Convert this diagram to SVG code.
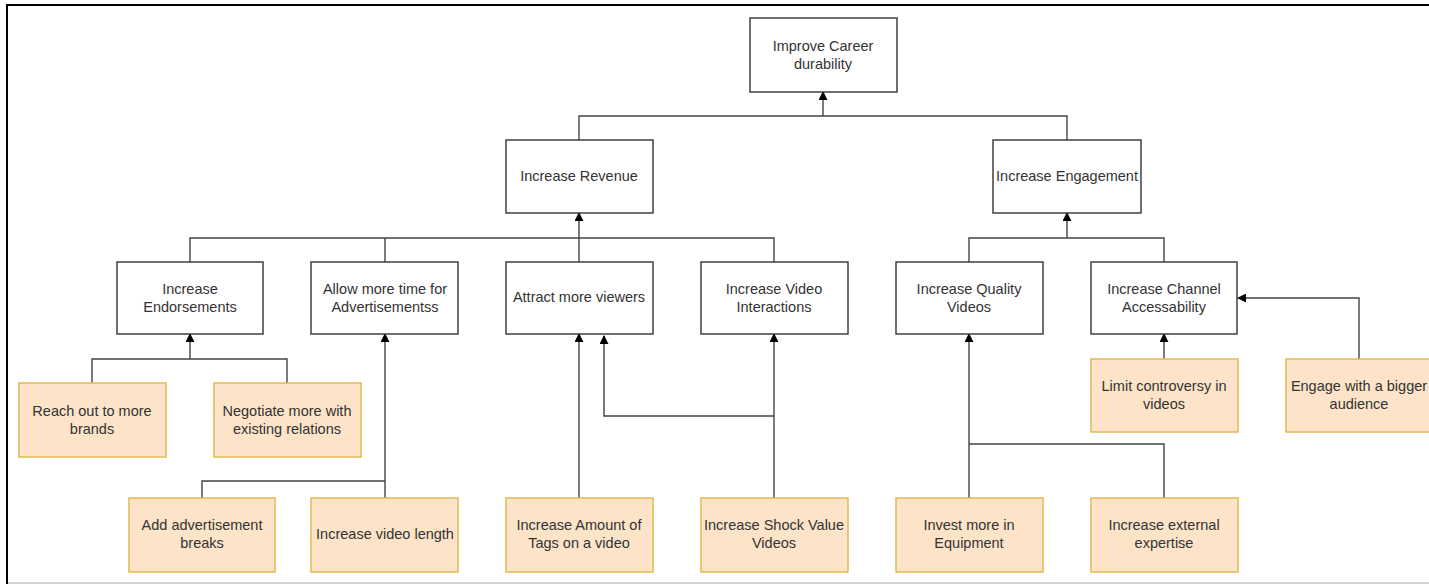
<svg xmlns="http://www.w3.org/2000/svg" width="1429" height="584" viewBox="0 0 1429 584">
  <style>
    .goal rect { fill: #ffffff; stroke: #333333; stroke-width: 1.4; }
    .task rect { fill: #fde4c8; stroke: #e2b548; stroke-width: 1.4; }
    text { font-family: "Liberation Sans", Arial, sans-serif; font-size: 14.5px; fill: #333333; text-anchor: middle; }
    .wire { fill: none; stroke: #444444; stroke-width: 1.4; }
    .wire.arrow { marker-end: url(#tip); }
  </style>
  <defs>
    <marker id="tip" viewBox="0 0 10 10" refX="9" refY="5" markerWidth="9" markerHeight="9" markerUnits="userSpaceOnUse" orient="auto">
      <path d="M0,0 L10,5 L0,10 Z" fill="#000000"/>
    </marker>
  </defs>

  <rect x="0" y="0" width="1429" height="584" fill="#ffffff"/>

  <!-- page frame -->
  <g id="frame">
    <line x1="6" y1="5" x2="1429" y2="5" stroke="#000000" stroke-width="2"/>
    <line x1="7" y1="4" x2="7" y2="584" stroke="#000000" stroke-width="2"/>
    <line x1="8" y1="583" x2="1429" y2="583" stroke="#c4c4c4" stroke-width="1.5"/>
  </g>

  <!-- connectors -->
  <g id="connectors">
    <!-- top level -->
    <path class="wire" d="M579,140 V116 H1067 V140"/>
    <path class="wire arrow" d="M823,116 V92"/>
    <!-- revenue branch -->
    <path class="wire" d="M190,262 V238 H774 V262"/>
    <path class="wire" d="M385,238 V262"/>
    <path class="wire arrow" d="M579,262 V213"/>
    <!-- engagement branch -->
    <path class="wire" d="M969,262 V238 H1164 V262"/>
    <path class="wire arrow" d="M1067,238 V213"/>
    <!-- endorsements -->
    <path class="wire" d="M92,383 V359 H287 V383"/>
    <path class="wire arrow" d="M190,359 V334"/>
    <!-- advertisements -->
    <path class="wire arrow" d="M385,498 V334"/>
    <path class="wire" d="M202,498 V481 H385"/>
    <!-- viewers / interactions -->
    <path class="wire arrow" d="M579,498 V334"/>
    <path class="wire arrow" d="M774,498 V334"/>
    <path class="wire arrow" d="M774,416 H604 V336"/>
    <!-- quality videos -->
    <path class="wire arrow" d="M969,498 V334"/>
    <path class="wire" d="M1164,498 V444 H969"/>
    <!-- accessability -->
    <path class="wire arrow" d="M1164,359 V334"/>
    <path class="wire arrow" d="M1359,359 V298 H1238"/>
  </g>

  <!-- goals -->
  <g id="improve-career" class="goal">
    <rect x="750" y="18" width="147" height="74"/>
    <text x="823" y="51">Improve Career</text>
    <text x="823" y="69">durability</text>
  </g>
  <g id="increase-revenue" class="goal">
    <rect x="506" y="140" width="147" height="73"/>
    <text x="579" y="181">Increase Revenue</text>
  </g>
  <g id="increase-engagement" class="goal">
    <rect x="993" y="140" width="148" height="73"/>
    <text x="1067" y="181">Increase Engagement</text>
  </g>
  <g id="increase-endorsements" class="goal">
    <rect x="117" y="262" width="146" height="72"/>
    <text x="190" y="294">Increase</text>
    <text x="190" y="312">Endorsements</text>
  </g>
  <g id="allow-more-time" class="goal">
    <rect x="311" y="262" width="147" height="72"/>
    <text x="385" y="294">Allow more time for</text>
    <text x="385" y="312">Advertisementss</text>
  </g>
  <g id="attract-viewers" class="goal">
    <rect x="506" y="262" width="147" height="72"/>
    <text x="579" y="302">Attract more viewers</text>
  </g>
  <g id="video-interactions" class="goal">
    <rect x="701" y="262" width="147" height="72"/>
    <text x="774" y="294">Increase Video</text>
    <text x="774" y="312">Interactions</text>
  </g>
  <g id="quality-videos" class="goal">
    <rect x="896" y="262" width="147" height="72"/>
    <text x="969" y="294">Increase Quality</text>
    <text x="969" y="312">Videos</text>
  </g>
  <g id="channel-accessability" class="goal">
    <rect x="1091" y="262" width="146" height="72"/>
    <text x="1164" y="294">Increase Channel</text>
    <text x="1164" y="312">Accessability</text>
  </g>

  <!-- tasks -->
  <g id="reach-out" class="task">
    <rect x="19" y="383" width="147" height="74"/>
    <text x="92" y="416">Reach out to more</text>
    <text x="92" y="434">brands</text>
  </g>
  <g id="negotiate" class="task">
    <rect x="214" y="383" width="147" height="74"/>
    <text x="287" y="416">Negotiate more with</text>
    <text x="287" y="434">existing relations</text>
  </g>
  <g id="limit-controversy" class="task">
    <rect x="1091" y="359" width="147" height="73"/>
    <text x="1164" y="391">Limit controversy in</text>
    <text x="1164" y="409">videos</text>
  </g>
  <g id="bigger-audience" class="task">
    <rect x="1286" y="359" width="147" height="73"/>
    <text x="1359" y="391">Engage with a bigger</text>
    <text x="1359" y="409">audience</text>
  </g>
  <g id="advertisement-breaks" class="task">
    <rect x="129" y="498" width="146" height="74"/>
    <text x="202" y="530">Add advertisement</text>
    <text x="202" y="548">breaks</text>
  </g>
  <g id="video-length" class="task">
    <rect x="311" y="498" width="147" height="74"/>
    <text x="385" y="539">Increase video length</text>
  </g>
  <g id="amount-of-tags" class="task">
    <rect x="506" y="498" width="147" height="74"/>
    <text x="579" y="530">Increase Amount of</text>
    <text x="579" y="548">Tags on a video</text>
  </g>
  <g id="shock-value" class="task">
    <rect x="701" y="498" width="147" height="74"/>
    <text x="774" y="530">Increase Shock Value</text>
    <text x="774" y="548">Videos</text>
  </g>
  <g id="equipment" class="task">
    <rect x="896" y="498" width="147" height="74"/>
    <text x="969" y="530">Invest more in</text>
    <text x="969" y="548">Equipment</text>
  </g>
  <g id="external-expertise" class="task">
    <rect x="1091" y="498" width="147" height="74"/>
    <text x="1164" y="530">Increase external</text>
    <text x="1164" y="548">expertise</text>
  </g>
</svg>
